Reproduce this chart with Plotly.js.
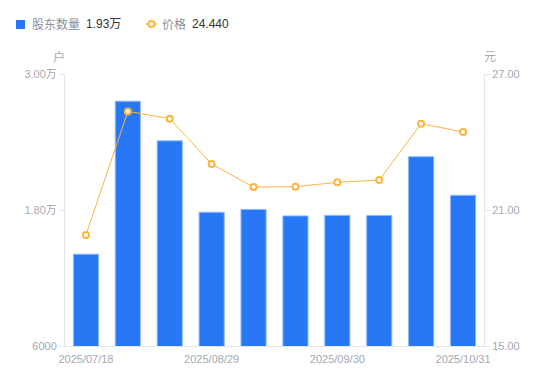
<!DOCTYPE html>
<html>
<head>
<meta charset="utf-8">
<script src="https://cdn.plot.ly/plotly-3.0.1.min.js"></script>
<style>
html,body{margin:0;padding:0;background:#fff;}
#chart{width:550px;height:381px;}
</style>
</head>
<body>
<div id="chart"></div>
<script>
var dates = ["2025/07/18","2025/07/31","2025/08/10","2025/08/29","2025/09/10","2025/09/19","2025/09/30","2025/10/10","2025/10/20","2025/10/31"];
var holders = [14100, 27600, 24100, 17800, 18050, 17480, 17530, 17520, 22700, 19300];
var prices = [19.90, 25.35, 25.03, 23.03, 22.01, 22.03, 22.22, 22.32, 24.81, 24.44];
var xTickLabels = ["2025/07/18","2025/08/29","2025/09/30","2025/10/31"];
var leftTickVals = [6000, 18000, 30000];
var leftTickText = ["6000", "1.80万", "3.00万"];
var rightTickVals = [15, 21, 27];
var rightTickText = ["15.00", "21.00", "27.00"];

var FONT = "'Liberation Sans', Arial, 'Noto Sans CJK SC', sans-serif";
var BLUE = "#2878f5";
var ORANGE = "#f9b540";
var GRAY = "#a3a7b3";

var traces = [
  {
    type: "bar", x: dates, y: holders, name: "股东数量",
    marker: {color: BLUE, line: {color: "#8fb8fa", width: 1}},
    width: 0.6, yaxis: "y", hoverinfo: "none"
  },
  {
    type: "scatter", mode: "lines+markers", x: dates, y: prices, name: "价格",
    line: {color: ORANGE, width: 1},
    marker: {symbol: "circle", size: 6, color: "#ffffff", line: {color: ORANGE, width: 2}},
    yaxis: "y2", cliponaxis: false, hoverinfo: "none"
  }
];

function px(x) { return (x - 65) / 419; }
function py(y) { return (346 - y) / 272; }

var layout = {
  width: 550, height: 381,
  margin: {l: 65, r: 66, t: 74, b: 35, pad: 0},
  paper_bgcolor: "#fff", plot_bgcolor: "#fff",
  showlegend: false, bargap: 0.4,
  font: {family: FONT, size: 11, color: GRAY},
  xaxis: {
    type: "category", range: [-0.5, 9.5], tickmode: "array", tickvals: xTickLabels, ticktext: xTickLabels,
    showgrid: false, zeroline: false, showline: true, linecolor: "#e3e5ea", linewidth: 1,
    ticks: "", tickfont: {size: 11, color: GRAY, family: FONT}, ticklabelstandoff: 3, fixedrange: true
  },
  yaxis: {
    range: [6000, 30000], tickmode: "array", tickvals: leftTickVals, ticktext: leftTickText,
    showgrid: false, zeroline: false, showline: true, linecolor: "#e3e5ea", linewidth: 1,
    ticks: "outside", ticklen: 5, tickcolor: "#e3e5ea", tickfont: {size: 11, color: GRAY, family: FONT},
    ticklabelstandoff: 0, fixedrange: true
  },
  yaxis2: {
    range: [15, 27], overlaying: "y", side: "right", tickmode: "array",
    tickvals: rightTickVals, ticktext: rightTickText,
    showgrid: false, zeroline: false, showline: true, linecolor: "#e3e5ea", linewidth: 1,
    ticks: "outside", ticklen: 5, tickcolor: "#e3e5ea", tickfont: {size: 11, color: GRAY, family: FONT},
    ticklabelstandoff: 0, fixedrange: true
  },
  shapes: [
    {type: "rect", xref: "paper", yref: "paper", x0: px(16), x1: px(25), y0: py(29), y1: py(20),
     fillcolor: BLUE, line: {width: 0}, layer: "above"},
    {type: "line", xref: "paper", yref: "paper", x0: px(146), x1: px(157), y0: py(24), y1: py(24),
     line: {color: ORANGE, width: 1.5}},
    {type: "circle", xref: "paper", yref: "paper", x0: px(148.5), x1: px(154.5), y0: py(27), y1: py(21),
     fillcolor: "#ffffff", line: {color: ORANGE, width: 2}}
  ],
  annotations: [
    {xref: "paper", yref: "paper", x: px(30), y: py(24), xanchor: "left", yanchor: "middle", showarrow: false,
     text: "股东数量", font: {size: 12, color: "#8c909c", family: FONT}},
    {xref: "paper", yref: "paper", x: px(84), y: py(24), xanchor: "left", yanchor: "middle", showarrow: false,
     text: "1.93万", font: {size: 12, color: "#333333", family: FONT}},
    {xref: "paper", yref: "paper", x: px(160), y: py(24), xanchor: "left", yanchor: "middle", showarrow: false,
     text: "价格", font: {size: 12, color: "#8c909c", family: FONT}},
    {xref: "paper", yref: "paper", x: px(190), y: py(24), xanchor: "left", yanchor: "middle", showarrow: false,
     text: "24.440", font: {size: 12, color: "#333333", family: FONT}},
    {xref: "paper", yref: "paper", x: px(59), y: py(57), xanchor: "center", yanchor: "middle", showarrow: false,
     text: "户", font: {size: 12, color: GRAY, family: FONT}},
    {xref: "paper", yref: "paper", x: px(490), y: py(57), xanchor: "center", yanchor: "middle", showarrow: false,
     text: "元", font: {size: 12, color: GRAY, family: FONT}}
  ]
};

Plotly.newPlot("chart", traces, layout, {displayModeBar: false, staticPlot: true});
</script>
</body>
</html>
